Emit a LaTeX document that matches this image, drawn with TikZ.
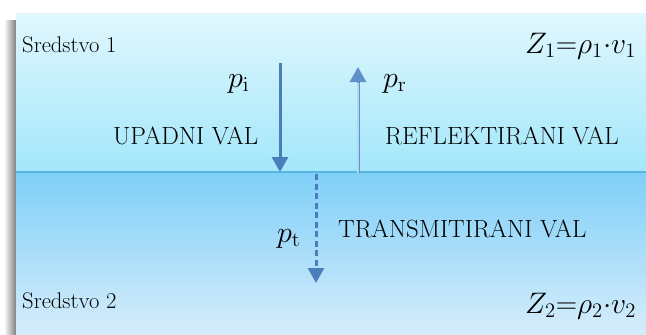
\documentclass[tikz,border=0pt]{standalone}
\usepackage{graphicx}
\usetikzlibrary{arrows.meta}
\definecolor{upTop}{RGB}{224,247,253}
\definecolor{upBot}{RGB}{163,231,251}
\definecolor{loTop}{RGB}{127,207,248}
\definecolor{loBot}{RGB}{214,237,251}
\definecolor{ifc}{RGB}{90,183,220}
\definecolor{arrc}{RGB}{74,126,187}
\definecolor{prc}{RGB}{96,144,204}
\definecolor{prmid}{RGB}{180,216,244}
\newcommand\basesz{\fontsize{20.74}{20.74}\selectfont}
\newcommand\psym[1]{\scalebox{1.45}{\basesz$p_{\mathrm{#1}}$}}
\newcommand\zeq[1]{\scalebox{1.43}{\basesz$Z_{#1}{=}\rho_{#1}{\cdot}v_{#1}$}}
\newcommand\medtxt[1]{\scalebox{1.09}{\basesz #1}}
\begin{document}
\begin{tikzpicture}[x=1pt,y=-1pt,
  lbl/.style={inner sep=0pt,anchor=base west,font=\fontsize{24.88}{24.88}\selectfont},
  sym/.style={inner sep=0pt,anchor=base west},
  arr/.style={line width=3pt,draw=arrc,-{Triangle[width=16pt,length=15pt]}},
  dasharr/.style={arr,dash pattern=on 6pt off 3.5pt}]
\useasboundingbox (0,0) rectangle (646,335);
% shadow
\shade[left color=white,right color=black!50] (4,20) rectangle (16,335);
% media
\shade[top color=upTop,bottom color=upBot] (16,13) rectangle (646,172);
\shade[top color=loTop,bottom color=loBot] (16,172) rectangle (646,335);
\draw[line width=2pt,ifc] (16,172) -- (646,172);
% arrows
\coordinate (pis) at (280,63);
\coordinate (pie) at (280,172);
\coordinate (prs) at (358,173);
\coordinate (prm) at (358,83);
\coordinate (pre) at (358,67);
\coordinate (pts) at (316,174);
\coordinate (pte) at (316,283);
\draw[arr] (pis) -- (pie);
\draw[prc,line width=0.9pt,double=prmid,double distance=1.2pt] (prs) -- (prm);
\draw[line width=3pt,draw=prc,-{Triangle[width=16pt,length=15pt]}] (prm) -- (pre);
\draw[dasharr] (pts) -- (pte);
% labels
\node[sym] (s1) at (22,52) {\medtxt{Sredstvo 1}};
\node[sym] (s2) at (22,308) {\medtxt{Sredstvo 2}};
\node[lbl] (up) at (113,144) {UPADNI VAL};
\node[lbl] (re) at (385,144) {REFLEKTIRANI VAL};
\node[lbl] (tr) at (338,237) {TRANSMITIRANI VAL};
\node[sym] (pi) at (228,87) {\psym{i}};
\node[sym] (pr) at (383,87) {\psym{r}};
\node[sym] (pt) at (277,242) {\psym{t}};
\node[sym] (z1) at (525,53) {\zeq{1}};
\node[sym] (z2) at (525,313) {\zeq{2}};
\end{tikzpicture}
\end{document}
